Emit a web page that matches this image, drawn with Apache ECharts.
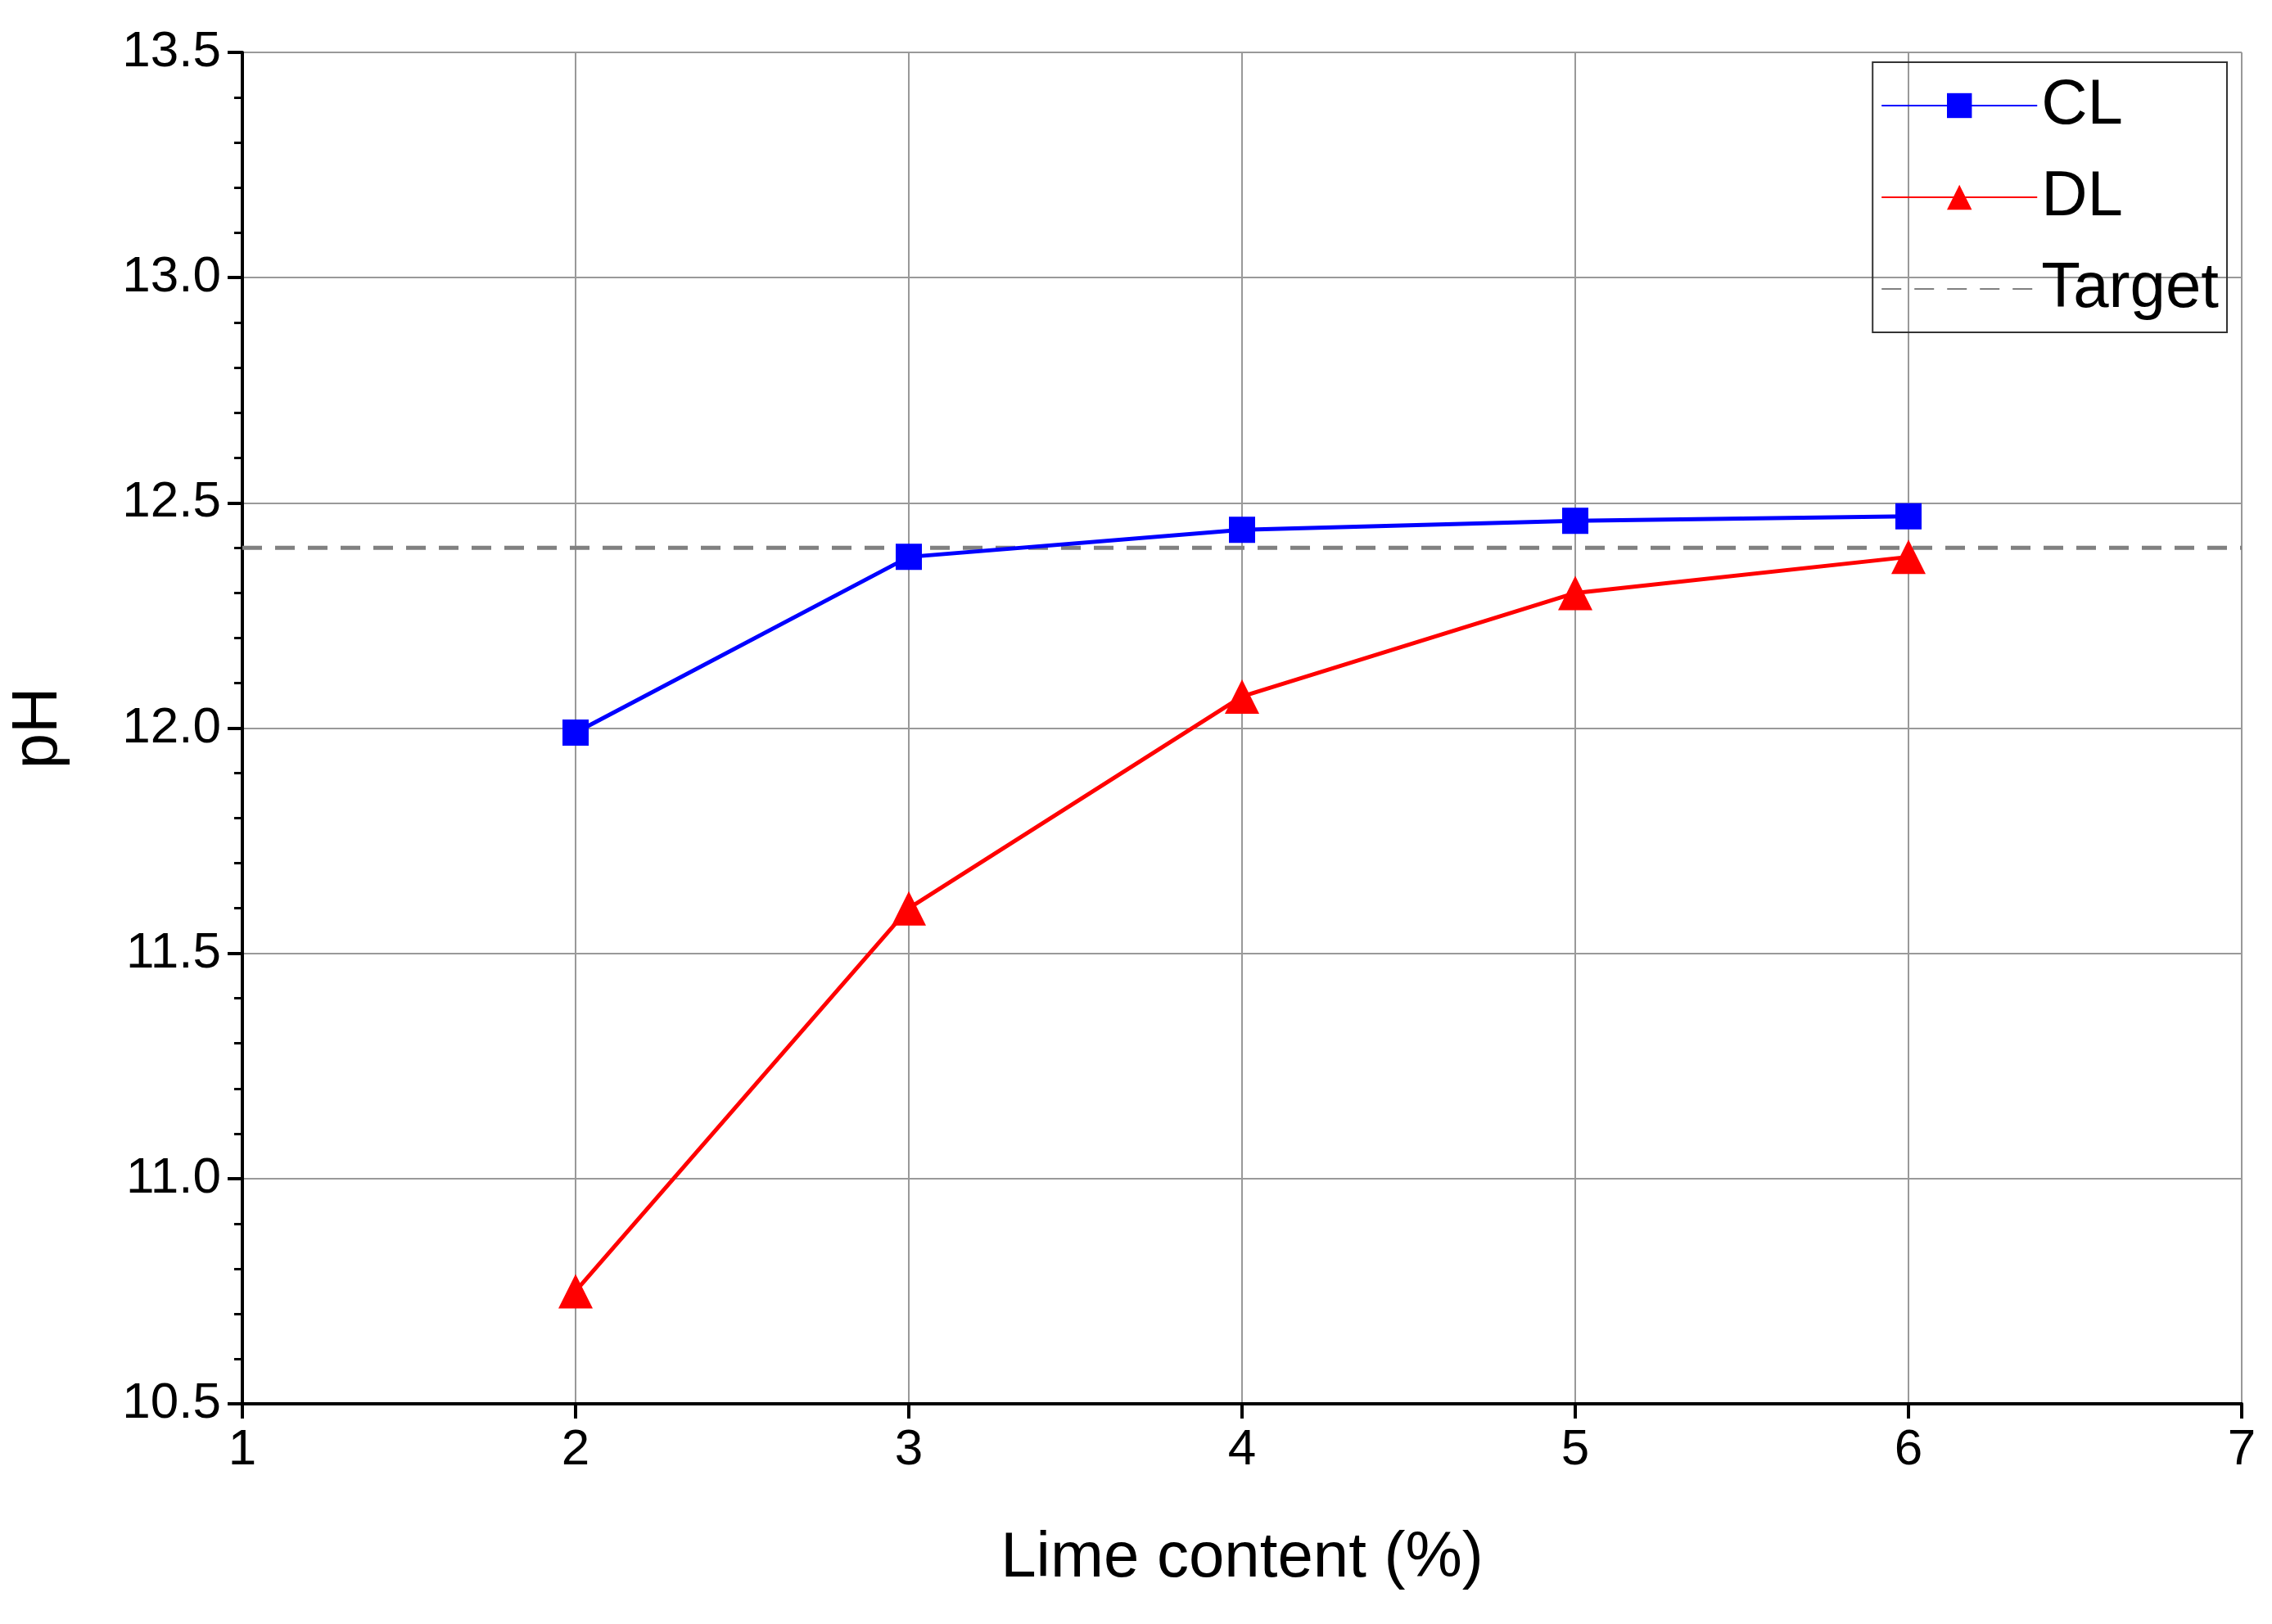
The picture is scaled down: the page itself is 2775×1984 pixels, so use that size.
<!DOCTYPE html>
<html>
<head>
<meta charset="utf-8">
<script src="https://cdn.jsdelivr.net/npm/echarts@6/dist/echarts.min.js"></script>
<style>html,body{margin:0;background:#fff}#chart{width:2775px;height:1984px}</style>
</head>
<body>
<div id="chart"></div>
<script>
// 数据
const limeContent = [2, 3, 4, 5, 6]
const clValues = [11.99, 12.38, 12.44, 12.46, 12.47]
const dlValues = [10.75, 11.60, 12.07, 12.30, 12.38]
const targetX = [1, 7]
const targetY = 12.4

const chart = echarts.init(document.getElementById('chart'))
const font = 'Arial, "Liberation Sans", sans-serif'
const option = {
    backgroundColor: '#fff',
    animation: false,
    grid: { left: 296, right: 37, top: 64, bottom: 269 },
    legend: {
        orient: 'vertical',
        right: 55, top: 76,
        itemWidth: 190, itemHeight: 38,
        itemGap: 34,
        padding: [14, 10, 14, 10],
        borderColor: '#333', borderWidth: 2,
        textStyle: { fontSize: 78, fontFamily: font, color: '#000' },
        data: ['CL', 'DL', { name: 'Target', itemStyle: { opacity: 0 } }]
    },
    xAxis: {
        type: 'value', min: 1, max: 7, interval: 1,
        name: 'Lime content (%)', nameLocation: 'middle', nameGap: 150,
        nameTextStyle: { fontSize: 78, fontFamily: font, color: '#000' },
        axisLine: { lineStyle: { color: '#000', width: 4 } },
        axisTick: { length: 18, lineStyle: { color: '#000', width: 4 } },
        axisLabel: { fontSize: 62, fontFamily: font, color: '#000', margin: 26 },
        splitLine: { show: true, lineStyle: { color: '#999', width: 2 } }
    },
    yAxis: {
        type: 'value', min: 10.5, max: 13.5, interval: 0.5,
        name: 'pH', nameLocation: 'middle', nameGap: 210,
        nameTextStyle: { fontSize: 78, fontFamily: font, color: '#000' },
        axisLine: { show: true, lineStyle: { color: '#000', width: 4 } },
        axisTick: { show: true, length: 18, lineStyle: { color: '#000', width: 4 } },
        minorTick: { show: true, splitNumber: 5, length: 10, lineStyle: { color: '#000', width: 3 } },
        axisLabel: { fontSize: 62, fontFamily: font, color: '#000', margin: 26, formatter: v => v.toFixed(1) },
        splitLine: { show: true, lineStyle: { color: '#999', width: 2 } }
    },
    series: [
        {
            name: 'CL', type: 'line',
            data: limeContent.map((x, i) => [x, clValues[i]]),
            symbol: 'rect', symbolSize: 32,
            itemStyle: { color: '#0000ff' },
            lineStyle: { color: '#0000ff', width: 5 },
            z: 3
        },
        {
            name: 'DL', type: 'line',
            data: limeContent.map((x, i) => [x, dlValues[i]]),
            symbol: 'triangle', symbolSize: 42,
            itemStyle: { color: '#ff0000' },
            lineStyle: { color: '#ff0000', width: 5 },
            z: 4
        },
        {
            name: 'Target', type: 'line',
            data: targetX.map(x => [x, targetY]),
            symbol: 'none',
            itemStyle: { color: '#808080' },
            lineStyle: { color: '#808080', width: 5, type: [24, 16] },
            z: 2
        }
    ]
}
chart.setOption(option)
</script>
</body>
</html>
